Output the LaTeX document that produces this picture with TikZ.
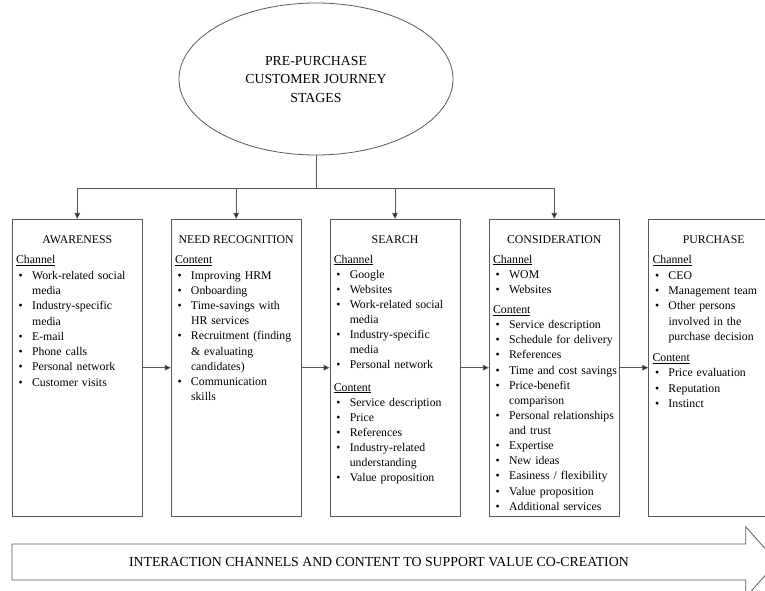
\documentclass[tikz,border=0pt]{standalone}
\usepackage{fontspec}
\setmainfont{Liberation Serif}
\usetikzlibrary{positioning,shapes.geometric,arrows.meta}

\newlength{\listskip}
\newdimen\lastdp
\newcommand{\bodysize}{\fontsize{11.8pt}{15.3pt}\selectfont}
\newcommand{\bigsize}{\fontsize{13.8pt}{18.5pt}\selectfont}
\newcommand{\listsize}[1]{\setlength{\listskip}{#1}\fontsize{11.8pt}{\listskip}\selectfont}
\newcommand{\lstrut}{\rule{0pt}{9pt}}
\newcommand{\lhead}[1]{\lstrut\underline{#1}\par}
\newcommand{\bitem}[1]{\noindent\makebox[16pt][l]{\hspace{2.5pt}\textbullet}%
	\parbox[t]{108pt}{\fontsize{11.8pt}{\listskip}\selectfont\raggedright #1\par\global\lastdp=\prevdepth}\par\prevdepth=\lastdp}
\newcommand{\lgap}[1][6pt]{\vspace{#1}}

\begin{document}
\begin{tikzpicture}[x=1pt,y=-1pt,
		line/.style={draw=black!65, line width=0.8pt},
		link/.style={line, -{Triangle[length=6pt,width=5.5pt,fill=black!85]}},
		stagebox/.style={line, rectangle, minimum width=130pt, minimum height=296.7pt, inner sep=0pt},
		stagehead/.style={inner sep=0pt, anchor=north, font=\bodysize},
		stagelist/.style={inner sep=0pt, text width=124pt, align=left, font=\bodysize}]
		\useasboundingbox (0,0) rectangle (765,591);
		\clip (0,0) rectangle (765,591);
		% top ellipse
		\node[line, ellipse, minimum width=274pt, minimum height=152pt, align=center, font=\bigsize] (pre) at (316,79) {PRE-PURCHASE\\CUSTOMER JOURNEY\\STAGES};
		\coordinate (hub) at (316,188);
		% stages
		\node[stagebox] (aware) at (77.3,367.7) {};
		\node[stagebox] (need) at (236.2,367.7) {};
		\node[stagebox] (search) at (395,367.7) {};
		\node[stagebox] (consid) at (554.3,367.7) {};
		\node[stagebox] (purch) at (713.7,367.7) {};
		\node[stagehead, below=13.2pt of aware.north] (awarehead) {\strut AWARENESS};
		\node[stagehead, below=13.2pt of need.north] (needhead) {\strut NEED RECOGNITION};
		\node[stagehead, below=13.2pt of search.north] (searchhead) {\strut SEARCH};
		\node[stagehead, below=13.2pt of consid.north] (considhead) {\strut CONSIDERATION};
		\node[stagehead, below=13.2pt of purch.north] (purchhead) {\strut PURCHASE};
		\node[stagelist, below right=35.7pt and 4pt of aware.north west] (awarelist) {\listsize{15.3pt}\lhead{Channel}
			\bitem{Work-related social\newline media}
			\bitem{Industry-specific\newline media}
			\bitem{E-mail}
			\bitem{Phone calls}
			\bitem{Personal network}
			\bitem{Customer visits}};
		\node[stagelist, below right=35.7pt and 4pt of need.north west] (needlist) {\listsize{15.2pt}\lhead{Content}
			\bitem{Improving HRM}
			\bitem{Onboarding}
			\bitem{Time-savings with\newline HR services}
			\bitem{Recruitment (finding\newline \& evaluating\newline candidates)}
			\bitem{Communication\newline skills}};
		\node[stagelist, below right=35pt and 4pt of search.north west] (searchlist) {\listsize{15.05pt}\lhead{Channel}
			\bitem{Google}
			\bitem{Websites}
			\bitem{Work-related social\newline media}
			\bitem{Industry-specific\newline media}
			\bitem{Personal network}
			\lgap[7.5pt]\lhead{Content}
			\bitem{Service description}
			\bitem{Price}
			\bitem{References}
			\bitem{Industry-related\newline understanding}
			\bitem{Value proposition}};
		\node[stagelist, below right=35pt and 4pt of consid.north west] (considlist) {\listsize{15.13pt}\lhead{Channel}
			\bitem{WOM}
			\bitem{Websites}
			\lgap[5pt]\lhead{Content}
			\bitem{Service description}
			\bitem{Schedule for delivery}
			\bitem{References}
			\bitem{Time and cost savings}
			\bitem{Price-benefit\newline comparison}
			\bitem{Personal relationships\newline and trust}
			\bitem{Expertise}
			\bitem{New ideas}
			\bitem{Easiness / flexibility}
			\bitem{Value proposition}
			\bitem{Additional services}};
		\node[stagelist, below right=35.7pt and 4pt of purch.north west] (purchlist) {\listsize{15.3pt}\lhead{Channel}
			\bitem{CEO}
			\bitem{Management team}
			\bitem{Other persons\newline involved in the\newline purchase decision}
			\lgap\lhead{Content}
			\bitem{Price evaluation}
			\bitem{Reputation}
			\bitem{Instinct}};
		% connectors
		\draw[line] (pre) -- (hub);
		\draw[link] (hub) -| (aware);
		\draw[link] (hub) -| (need);
		\draw[link] (hub) -| (search);
		\draw[link] (hub) -| (consid);
		\draw[link] (aware) -- (need);
		\draw[link] (need) -- (search);
		\draw[link] (search) -- (consid);
		\draw[link] (consid) -- (purch);
		% bottom arrow
		\draw[line] (12,544) -- (745.7,544) -- (745.7,526.7) -- (777,562) -- (745.7,597.3) -- (745.7,580) -- (12,580) -- cycle;
		\node[font=\bigsize] (cocreate) at (378.9,562) {INTERACTION CHANNELS AND CONTENT TO SUPPORT VALUE CO-CREATION};
\end{tikzpicture}
\end{document}
